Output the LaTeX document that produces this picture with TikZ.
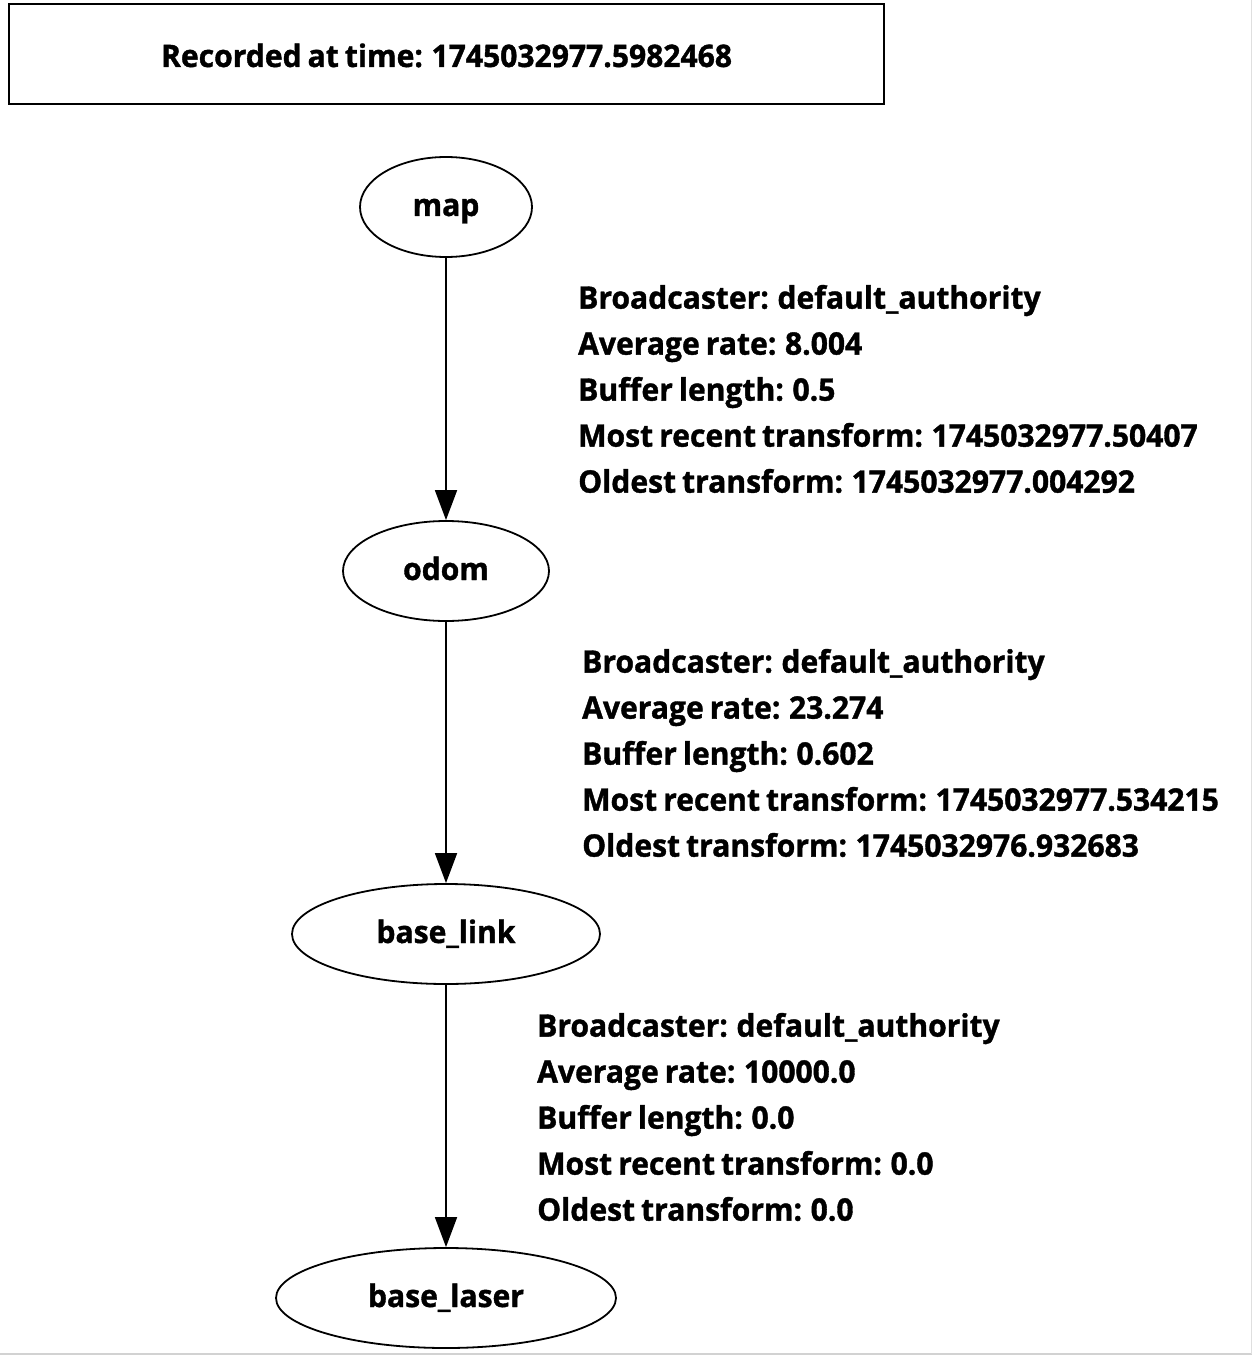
\documentclass[tikz,border=0pt]{standalone}
\usepackage{fontspec}
\setmainfont{Open Sans}[BoldFont={* Bold},BoldFeatures={FakeStretch=0.97,FakeBold=1.2}]
\usetikzlibrary{shapes.geometric,arrows.meta}
\newcommand{\tfbold}{\fontsize{31}{46}\selectfont\bfseries\spaceskip=6pt plus 2pt minus 1pt\relax}
\tikzset{
  frame/.style={draw, line width=2pt, minimum width=875pt, minimum height=100pt, inner sep=0pt, text height=26pt, text depth=0pt, font=\tfbold},
  tfnode/.style={draw, ellipse, line width=1.8pt, inner sep=0pt, text height=24pt, text depth=6pt, font=\tfbold},
  tfedge/.style={line width=1.8pt, -{Triangle[length=30pt,width=22pt]}},
  info/.style={anchor=west, align=left, inner sep=0pt, font=\tfbold},
}
\begin{document}
\begin{tikzpicture}[x=1pt,y=-1pt]
\useasboundingbox (0,0) rectangle (1252,1356);
\fill[white] (0,0) rectangle (1252,1356);
\draw[gray!35, line width=2pt] (0,1354) -- (1252,1354);
\draw[gray!25, line width=1pt] (1251,0) -- (1251,1354);
\node[frame] (rec) at (446.5,54) {Recorded at time: 1745032977.5982468};
\node[tfnode, minimum width=172pt, minimum height=100pt] (map) at (446,207) {map};
\node[tfnode, minimum width=206pt, minimum height=100pt] (odom) at (446,571) {odom};
\node[tfnode, minimum width=308pt, minimum height=100pt] (base_link) at (446,934) {base\_link};
\node[tfnode, minimum width=340pt, minimum height=100pt] (base_laser) at (446,1298) {base\_laser};
\draw[tfedge] (map) -- (odom);
\draw[tfedge] (odom) -- (base_link);
\draw[tfedge] (base_link) -- (base_laser);
\node[info] (l1) at (578,389) {Broadcaster: default\_authority\\Average rate: 8.004\\Buffer length: 0.5\\Most recent transform: 1745032977.50407\\Oldest transform: 1745032977.004292};
\node[info] (l2) at (582,753) {Broadcaster: default\_authority\\Average rate: 23.274\\Buffer length: 0.602\\Most recent transform: 1745032977.534215\\Oldest transform: 1745032976.932683};
\node[info] (l3) at (537,1117) {Broadcaster: default\_authority\\Average rate: 10000.0\\Buffer length: 0.0\\Most recent transform: 0.0\\Oldest transform: 0.0};
\end{tikzpicture}
\end{document}
